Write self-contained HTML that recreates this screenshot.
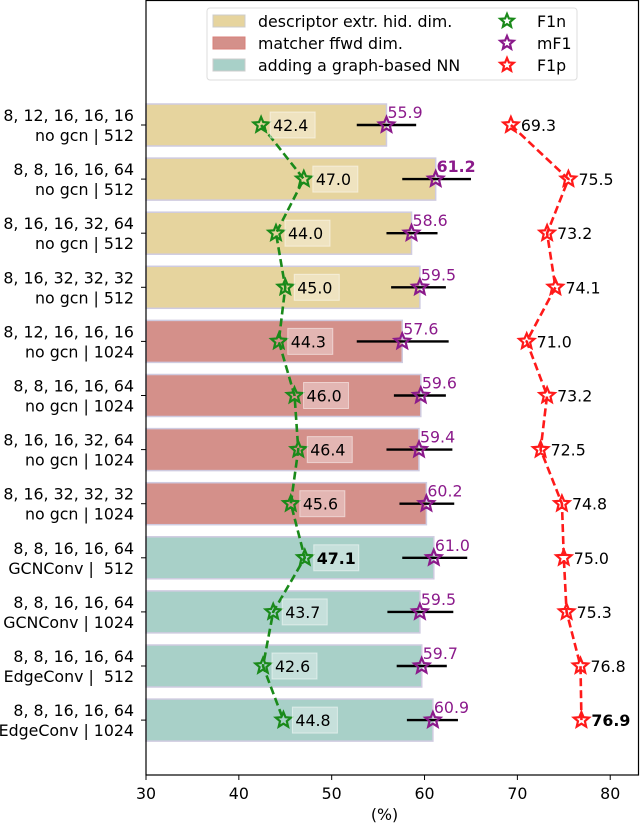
<!DOCTYPE html>
<html><head><meta charset="utf-8"><style>
html,body{margin:0;padding:0;background:#fff;}
svg{display:block;font-family:"DejaVu Sans","Liberation Sans",sans-serif;}
</style></head><body>
<svg id="chart" width="640" height="824" viewBox="0 0 640 824"></svg>
<script>
const rowLabels1=["8, 12, 16, 16, 16","8, 8, 16, 16, 64","8, 16, 16, 32, 64","8, 16, 32, 32, 32","8, 12, 16, 16, 16","8, 8, 16, 16, 64","8, 16, 16, 32, 64","8, 16, 32, 32, 32","8, 8, 16, 16, 64","8, 8, 16, 16, 64","8, 8, 16, 16, 64","8, 8, 16, 16, 64"];
const rowLabels2=["no gcn | 512","no gcn | 512","no gcn | 512","no gcn | 512","no gcn | 1024","no gcn | 1024","no gcn | 1024","no gcn | 1024","GCNConv |  512","GCNConv | 1024","EdgeConv |  512","EdgeConv | 1024"];
const groups=[0,0,0,0,1,1,1,1,2,2,2,2];
const mF1=[55.9,61.2,58.6,59.5,57.6,59.6,59.4,60.2,61.0,59.5,59.7,60.9];
const errLo=[52.7,57.6,55.9,56.4,52.7,56.7,55.9,57.3,57.6,56.0,57.0,58.1];
const errHi=[59.1,65.0,61.4,62.3,62.6,62.3,63.0,63.2,64.6,63.1,62.4,63.6];
const F1n=[42.4,47.0,44.0,45.0,44.3,46.0,46.4,45.6,47.1,43.7,42.6,44.8];
const F1p=[69.3,75.5,73.2,74.1,71.0,73.2,72.5,74.8,75.0,75.3,76.8,76.9];
const xTicks=[30,40,50,60,70,80];
const legendLabels=["descriptor extr. hid. dim.","matcher ffwd dim.","adding a graph-based NN"];
const legendStars=["F1n","mF1","F1p"];

const NS="http://www.w3.org/2000/svg";
const svg=document.getElementById('chart');
const L=146,R=639,T=0,B=775,xmin=30,xmax=83.1;
const X=v=>L+(v-xmin)/(xmax-xmin)*(R-L);
const Y=i=>125+i*54.1;
const colors=["#e6d49e","#d4908a","#a8d0c8"];
const FS=15.8;
function el(tag,attrs,parent){const e=document.createElementNS(NS,tag);for(const k in attrs)e.setAttribute(k,attrs[k]);(parent||svg).appendChild(e);return e;}
function star(cx,cy,r,color,name){
  let pts=[];for(let k=0;k<10;k++){const a=-Math.PI/2+k*Math.PI/5;const rr=k%2?r*0.45:r;pts.push((cx+rr*Math.cos(a)).toFixed(1)+","+(cy+rr*Math.sin(a)).toFixed(1));}
  const p=el('polygon',{points:pts.join(' '),fill:'none',stroke:color,'stroke-width':2.2});
  
  
  return p;
}
mF1.forEach((v,i)=>{
  const r=el('rect',{x:X(xmin),y:Y(i)-21,width:X(v)-X(xmin),height:42,fill:colors[groups[i]],stroke:'#cfcbe0','stroke-width':1.5});
  
  
});
mF1.forEach((v,i)=>{
  const l=el('line',{x1:X(errLo[i]),x2:X(errHi[i]),y1:Y(i),y2:Y(i),stroke:'#000','stroke-width':2.4});
  
  
});
const pathN=F1n.map((v,i)=>(i?'L':'M')+X(v)+','+Y(i)).join(' ');
const ln=el('path',{d:pathN,fill:'none',stroke:'#1a8a1a','stroke-width':2.6,'stroke-dasharray':'8,4'});


const pathP=F1p.map((v,i)=>(i?'L':'M')+X(v)+','+Y(i)).join(' ');
const lp=el('path',{d:pathP,fill:'none',stroke:'#ff1a1a','stroke-width':2.6,'stroke-dasharray':'8,4'});


F1n.forEach((v,i)=>{
  star(X(v),Y(i),8,'#1a8a1a','f1n-point-'+i);
  const bx=el('rect',{x:X(v)+9,y:Y(i)-13,width:45,height:26,fill:'rgba(255,255,255,0.35)',stroke:'rgba(255,255,255,0.5)'});
  
  
  const t=el('text',{x:X(v)+12,y:Y(i)+6,'font-size':FS,fill:'#000','font-weight':i===8?'bold':'normal'});
  t.textContent=v.toFixed(1);
  
  
});
mF1.forEach((v,i)=>{
  star(X(v),Y(i),8,'#8b1a8b','mf1-point-'+i);
  const t=el('text',{x:X(v)+1,y:Y(i)-7,'font-size':FS,fill:'#8b1a8b','font-weight':i===1?'bold':'normal'});
  t.textContent=v.toFixed(1);
  
  
});
F1p.forEach((v,i)=>{
  star(X(v),Y(i),8,'#ff1a1a','f1p-point-'+i);
  const t=el('text',{x:X(v)+10,y:Y(i)+6,'font-size':FS,fill:'#000','font-weight':i===11?'bold':'normal'});
  t.textContent=v.toFixed(1);
  
  
});
const fr=el('rect',{x:L,y:T+0.5,width:R-L-0.5,height:B-T-0.5,fill:'none',stroke:'#000','stroke-width':1.2});


xTicks.forEach(v=>{
  el('line',{x1:X(v),x2:X(v),y1:B,y2:B+5,stroke:'#000','stroke-width':1});
  const t=el('text',{x:X(v),y:B+24,'font-size':FS,'text-anchor':'middle',fill:'#000'});
  t.textContent=v;
  
  
});
const xt=el('text',{x:(L+R)/2-8,y:B+45,'font-size':FS,'text-anchor':'middle',fill:'#000'});
xt.textContent='(%)';


rowLabels1.forEach((s,i)=>{
  el('line',{x1:L-5,x2:L,y1:Y(i),y2:Y(i),stroke:'#000','stroke-width':1});
  const t=el('text',{x:L-12,y:Y(i)-4,'font-size':FS,'text-anchor':'end',fill:'#000'});
  t.textContent=s;
  
  
  const t2=el('text',{x:L-12,y:Y(i)+16,'font-size':FS,'text-anchor':'end',fill:'#000'});
  t2.style.whiteSpace='pre';
  t2.textContent=rowLabels2[i];
  
  
});
const lg=el('rect',{x:207,y:8,width:370,height:72,rx:3,fill:'rgba(255,255,255,0.85)',stroke:'#ddd','stroke-width':1});


legendLabels.forEach((s,k)=>{
  const cy=21+k*22;
  const p=el('rect',{x:213,y:cy-6,width:32,height:12,fill:colors[k],stroke:k==1?'#d87f79':'#ccc','stroke-width':1});
  
  
  const t=el('text',{x:258,y:cy+6,'font-size':FS,fill:'#000'});
  t.textContent=s;
  
  
});
const starCols=['#1a8a1a','#8b1a8b','#ff1a1a'];
legendStars.forEach((s,k)=>{
  const cy=21+k*22;
  star(507,cy,7,starCols[k],'legend-star-'+k);
  const t=el('text',{x:537,y:cy+6,'font-size':FS,fill:'#000'});
  t.textContent=s;
  
  
});
</script>
</body></html>
